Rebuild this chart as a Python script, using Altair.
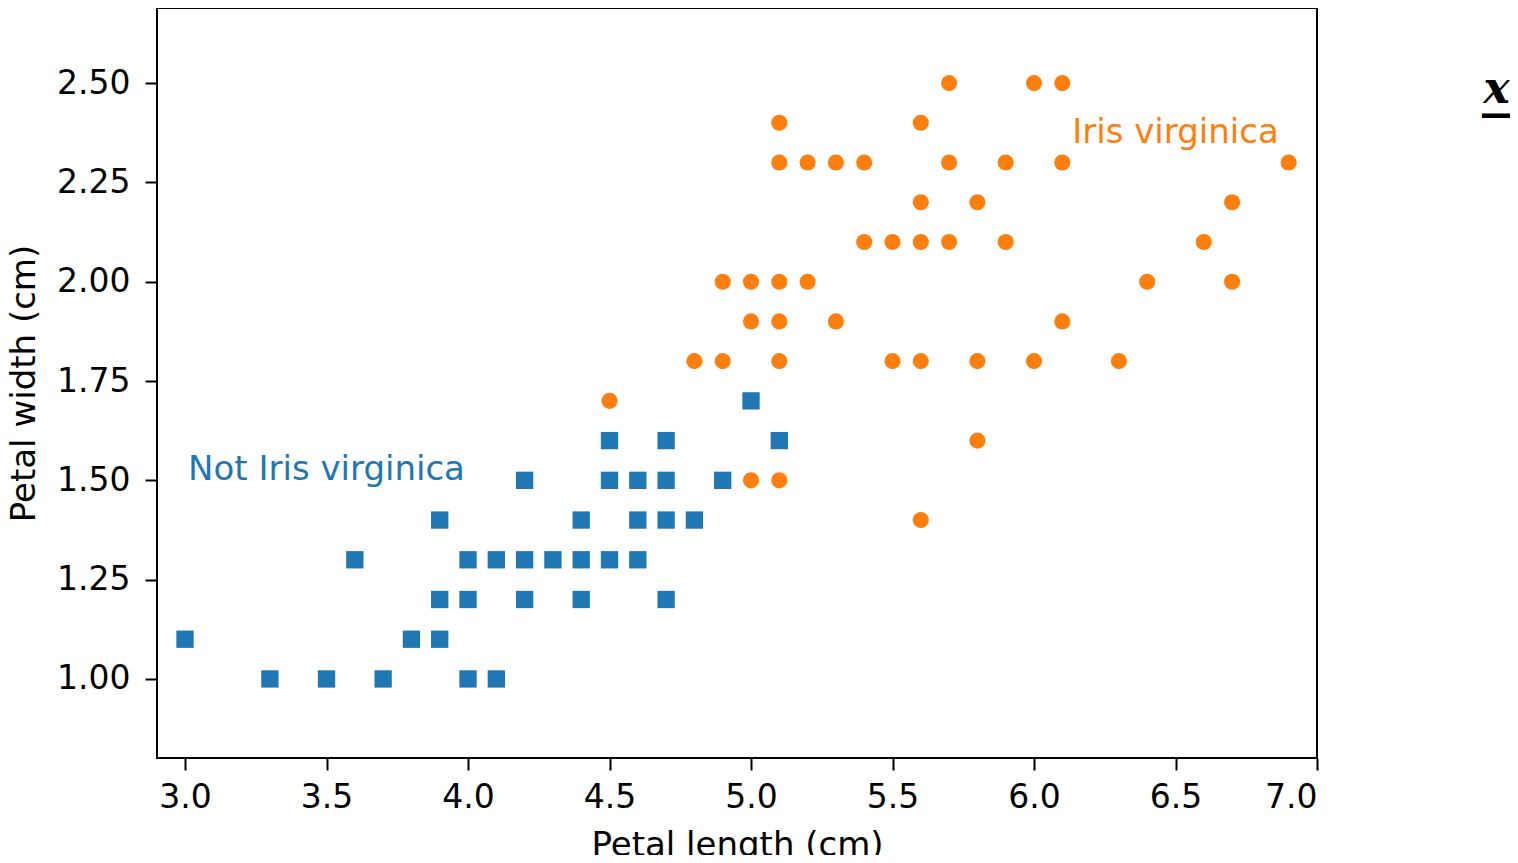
import altair as alt
import pandas as pd

# --- data ---
not_virg_len = [3.0, 3.3, 3.5, 3.6, 3.7, 3.8, 3.9, 3.9, 3.9, 4.0, 4.0, 4.0,
                4.1, 4.1, 4.2, 4.2, 4.2, 4.3, 4.4, 4.4, 4.4, 4.5, 4.5, 4.5,
                4.6, 4.6, 4.6, 4.7, 4.7, 4.7, 4.7, 4.8, 4.9, 5.0, 5.1]
not_virg_wid = [1.1, 1.0, 1.0, 1.3, 1.0, 1.1, 1.4, 1.2, 1.1, 1.3, 1.2, 1.0,
                1.3, 1.0, 1.5, 1.3, 1.2, 1.3, 1.4, 1.3, 1.2, 1.6, 1.5, 1.3,
                1.5, 1.4, 1.3, 1.6, 1.5, 1.4, 1.2, 1.4, 1.5, 1.7, 1.6]

virg_len = [5.7, 6.0, 6.1,
            5.1, 5.6,
            5.1, 5.2, 5.3, 5.4, 5.7, 5.9, 6.1, 6.9,
            5.6, 5.8, 6.7,
            5.4, 5.5, 5.6, 5.7, 5.9, 6.6,
            4.9, 5.0, 5.1, 5.2, 6.4, 6.7,
            5.0, 5.1, 5.3, 6.1,
            4.8, 4.9, 5.1, 5.5, 5.6, 5.8, 6.0, 6.3,
            4.5, 5.8, 5.0, 5.1, 5.6]
virg_wid = [2.5, 2.5, 2.5,
            2.4, 2.4,
            2.3, 2.3, 2.3, 2.3, 2.3, 2.3, 2.3, 2.3,
            2.2, 2.2, 2.2,
            2.1, 2.1, 2.1, 2.1, 2.1, 2.1,
            2.0, 2.0, 2.0, 2.0, 2.0, 2.0,
            1.9, 1.9, 1.9, 1.9,
            1.8, 1.8, 1.8, 1.8, 1.8, 1.8, 1.8, 1.8,
            1.7, 1.6, 1.5, 1.5, 1.4]

label_text = ["Not Iris virginica", "Iris virginica"]
label_x = [3.5, 6.5]
label_y = [1.5, 2.35]
label_color = ["#1f77b4", "#ff7f0e"]

glyph_text = ["x"]
glyph_x = [7.635]
glyph_y = [2.45]
bar_text = ["\u2014"]
bar_x = [7.64]
bar_y = [2.419]

x_ticks = [3.0, 3.5, 4.0, 4.5, 5.0, 5.5, 6.0, 6.5, 7.0]
y_ticks = [1.0, 1.25, 1.5, 1.75, 2.0, 2.25, 2.5]

FONT = "DejaVu Sans"

nv = pd.DataFrame({"len": not_virg_len, "wid": not_virg_wid})
vg = pd.DataFrame({"len": virg_len, "wid": virg_wid})
lab = pd.DataFrame({"t": label_text, "x": label_x, "y": label_y, "c": label_color})
gl = pd.DataFrame({"t": glyph_text, "x": glyph_x, "y": glyph_y})
br = pd.DataFrame({"t": bar_text, "x": bar_x, "y": bar_y})

xs = alt.Scale(domain=[2.901, 7.0], nice=False, zero=False)
ys = alt.Scale(domain=[0.801, 2.689], nice=False, zero=False)

xax = alt.Axis(values=x_ticks, format=".1f", title="Petal length (cm)", grid=False,
               tickSize=12, tickWidth=2, tickColor="black", labelPadding=11,
               labelFontSize=33, labelFont=FONT, labelColor="black",
               titleFontSize=34, titleFont=FONT, titleFontWeight="normal",
               titleColor="black", titlePadding=14, domain=False)
yax = alt.Axis(values=y_ticks, format=".2f", title="Petal width (cm)", grid=False,
               tickSize=12, tickWidth=2, tickColor="black", labelPadding=15,
               labelFontSize=33, labelFont=FONT, labelColor="black",
               titleFontSize=34, titleFont=FONT, titleFontWeight="normal",
               titleColor="black", titlePadding=15, domain=False)

squares = alt.Chart(nv).mark_point(shape="square", filled=True, size=300,
                                   color="#1f77b4", opacity=1).encode(
    x=alt.X("len:Q", scale=xs, axis=xax),
    y=alt.Y("wid:Q", scale=ys, axis=yax),
)
circles = alt.Chart(vg).mark_circle(size=260, color="#ff7f0e", opacity=1).encode(
    x=alt.X("len:Q", scale=xs),
    y=alt.Y("wid:Q", scale=ys),
)
labels = alt.Chart(lab).mark_text(font=FONT, fontSize=34, align="center",
                                  baseline="alphabetic").encode(
    x=alt.X("x:Q", scale=xs),
    y=alt.Y("y:Q", scale=ys),
    text="t:N",
    color=alt.Color("c:N", scale=None),
)
glyph = alt.Chart(gl).mark_text(font="DejaVu Serif", fontSize=44, fontStyle="italic",
                                fontWeight="bold", align="center",
                                baseline="alphabetic", clip=False, color="black").encode(
    x=alt.X("x:Q", scale=xs),
    y=alt.Y("y:Q", scale=ys),
    text="t:N",
)
bar = alt.Chart(br).mark_text(font=FONT, fontSize=36, fontWeight="bold", align="center",
                              baseline="middle", clip=False, color="black").encode(
    x=alt.X("x:Q", scale=xs),
    y=alt.Y("y:Q", scale=ys),
    text="t:N",
)

chart = alt.layer(squares, circles, labels, glyph, bar).properties(
    width=1160, height=750,
    background="white",
    autosize=alt.AutoSizeParams(type="none"),
    padding={"left": 149, "top": 0, "right": 193, "bottom": 97},
).configure_view(stroke="black", strokeWidth=2)

chart.save("out.html", embed_options={"renderer": "svg", "actions": False})
